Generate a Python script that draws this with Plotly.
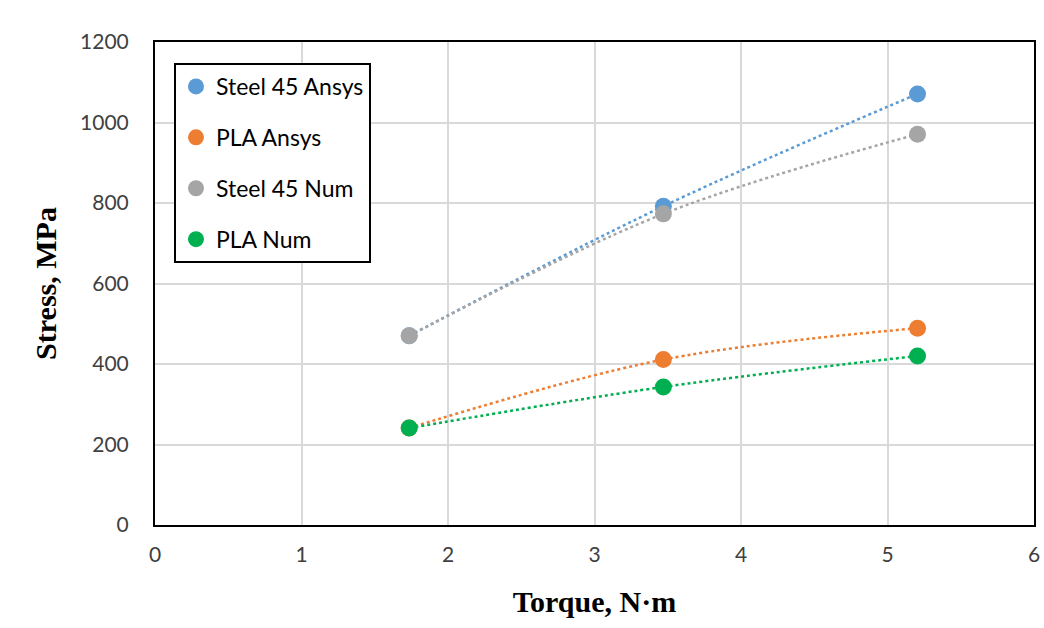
import plotly.graph_objects as go

torque = [1.735, 3.47, 5.205]
steel_ansys = [470, 792, 1071]
pla_ansys = [241, 411, 489]
steel_num = [470, 773, 971]
pla_num = [241, 343, 420]

names = ["Steel 45 Ansys", "PLA Ansys", "Steel 45 Num", "PLA Num"]
series = [steel_ansys, pla_ansys, steel_num, pla_num]
colors = ["#5B9BD5", "#ED7D31", "#A5A5A5", "#00B050"]

fig = go.Figure()
for n, s, c in zip(names, series, colors):
    fig.add_trace(go.Scatter(x=torque, y=s, mode="lines", line=dict(color=c, width=2.5, dash="dot", shape="spline"),
                             showlegend=False, hoverinfo="skip"))
for n, s, c in zip(names, series, colors):
    fig.add_trace(go.Scatter(x=torque, y=s, mode="markers", name=n, legendgroup=n,
                             marker=dict(color=c, size=17)))

fig.update_layout(
    width=1044, height=628,
    paper_bgcolor="white", plot_bgcolor="white",
    margin=dict(l=155, r=10, t=42, b=103, autoexpand=False),
    font=dict(family="Lato, Liberation Sans", color="#404040"),
    legend=dict(x=0.0216, y=0.9565, xanchor="left", yanchor="top",
                bordercolor="black", borderwidth=2, bgcolor="white",
                font=dict(size=23, family="Lato", color="black"),
                traceorder="grouped", tracegroupgap=18, itemwidth=30),
    showlegend=True,
)
fig.update_xaxes(range=[0, 6], dtick=1, showgrid=True, gridcolor="#d9d9d9", gridwidth=2,
                 showline=True, mirror=True, linecolor="black", linewidth=2, zeroline=False,
                 automargin=False,
                 ticks="", tickfont=dict(size=21, family="Lato", color="#404040"),
                 ticklabelstandoff=10,
                 title=dict(text="Torque, N·m", font=dict(size=30, family="Liberation Serif", color="black", weight="bold"), standoff=26))
fig.update_yaxes(range=[0, 1200], dtick=200, showgrid=True, gridcolor="#d9d9d9", gridwidth=2,
                 showline=True, mirror=True, linecolor="black", linewidth=2, zeroline=False,
                 automargin=False,
                 ticks="", tickfont=dict(size=21, family="Lato", color="#404040"),
                 ticklabelstandoff=20,
                 title=dict(text="Stress, MPa", font=dict(size=30, family="Liberation Serif", color="black", weight="bold"), standoff=15))

fig.write_html("out.html", config={"displayModeBar": False},
               post_script="document.body.style.margin='0';document.body.style.overflow='hidden';")
